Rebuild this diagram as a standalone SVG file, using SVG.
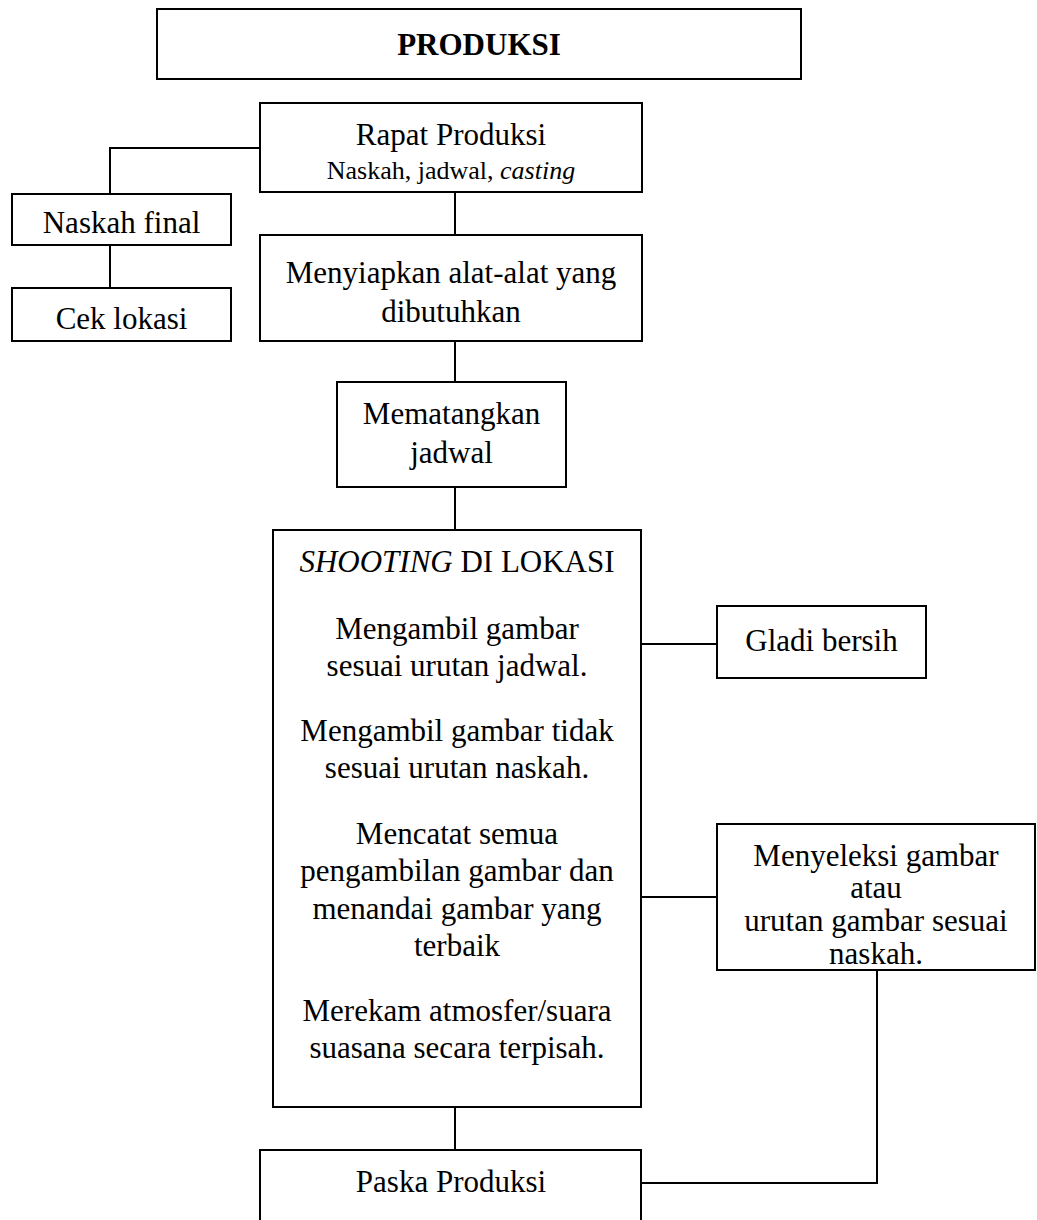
<svg xmlns="http://www.w3.org/2000/svg" width="1037" height="1220" viewBox="0 0 1037 1220">
<style>
rect{fill:#fff;stroke:#000;stroke-width:2}
.c path{fill:none;stroke:#000;stroke-width:2}
text{font-family:"Liberation Serif","Times New Roman",serif;font-size:31px;fill:#000;text-anchor:middle}
.s{font-size:26px}
.b{font-weight:bold}
.i{font-style:italic}
</style>
<rect width="1037" height="1220" style="fill:#fff;stroke:none"/>
<g class="c" id="connectors">
<path d="M260,148 H110 V194"/>
<path d="M110,245 V288"/>
<path d="M455,192 V235"/>
<path d="M455,341 V382"/>
<path d="M455,487 V530"/>
<path d="M641,644 H717"/>
<path d="M641,897 H717"/>
<path d="M877,970 V1183 H641"/>
<path d="M455,1107 V1150"/>
</g>
<g id="produksi"><rect x="157" y="9" width="644" height="70"/><text class="b" x="479" y="55">PRODUKSI</text></g>
<g id="rapat"><rect x="260" y="103" width="382" height="89"/><text x="451" y="145">Rapat Produksi</text><text class="s" x="451" y="179">Naskah, jadwal, <tspan class="i">casting</tspan></text></g>
<g id="naskah"><rect x="12" y="194" width="219" height="51"/><text x="121.5" y="233">Naskah final</text></g>
<g id="cek"><rect x="12" y="288" width="219" height="53"/><text x="121.5" y="329">Cek lokasi</text></g>
<g id="menyiapkan"><rect x="260" y="235" width="382" height="106"/><text x="451" y="283">Menyiapkan alat-alat yang</text><text x="451" y="322">dibutuhkan</text></g>
<g id="mematangkan"><rect x="337" y="382" width="229" height="105"/><text x="451.5" y="424">Mematangkan</text><text x="451.5" y="463">jadwal</text></g>
<g id="shooting"><rect x="273" y="530" width="368" height="577"/>
<text x="457" y="572"><tspan class="i">SHOOTING</tspan> DI LOKASI</text>
<text x="457" y="639">Mengambil gambar</text>
<text x="457" y="676">sesuai urutan jadwal.</text>
<text x="457" y="741">Mengambil gambar tidak</text>
<text x="457" y="778">sesuai urutan naskah.</text>
<text x="457" y="844">Mencatat semua</text>
<text x="457" y="881">pengambilan gambar dan</text>
<text x="457" y="919">menandai gambar yang</text>
<text x="457" y="956">terbaik</text>
<text x="457" y="1021">Merekam atmosfer/suara</text>
<text x="457" y="1058">suasana secara terpisah.</text>
</g>
<g id="gladi"><rect x="717" y="606" width="209" height="72"/><text x="821.5" y="651">Gladi bersih</text></g>
<g id="menyeleksi"><rect x="717" y="824" width="318" height="146"/>
<text x="876" y="866">Menyeleksi gambar</text>
<text x="876" y="898">atau</text>
<text x="876" y="931">urutan gambar sesuai</text>
<text x="876" y="964">naskah.</text>
</g>
<g id="paska"><rect x="260" y="1150" width="381" height="90"/><text x="451" y="1192">Paska Produksi</text></g>
</svg>
